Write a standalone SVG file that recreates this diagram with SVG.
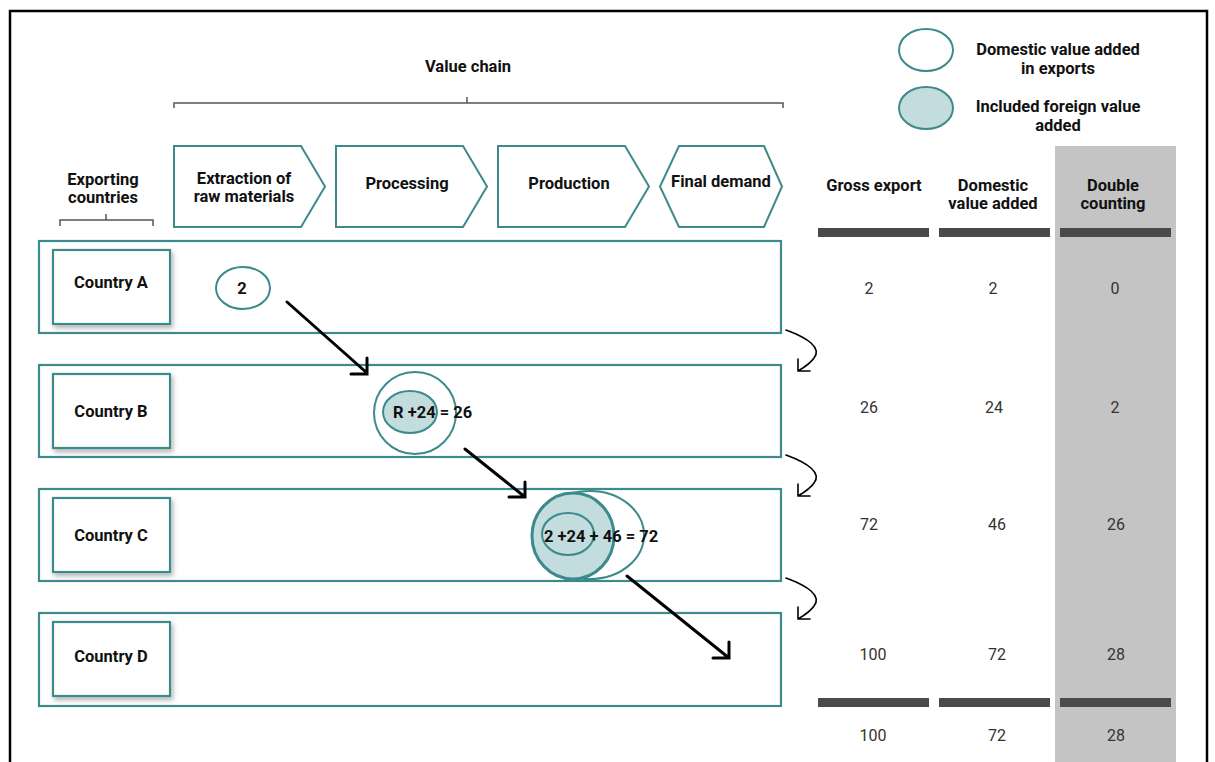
<svg xmlns="http://www.w3.org/2000/svg" width="1215" height="762" viewBox="0 0 1215 762">
<defs>
<style>
.t{font-family:Roboto,"Liberation Sans",sans-serif;font-weight:bold;font-size:16.5px;fill:#111;text-anchor:middle}
.n{font-family:Roboto,"Liberation Sans",sans-serif;font-size:16px;fill:#333;text-anchor:middle}
.tl{fill:none;stroke:#3d8a8c;stroke-width:2}
.box{fill:#fff;stroke:#3d8a8c;stroke-width:2.2}
.fill{fill:#c3dcde;stroke:#3d8a8c;stroke-width:2}
.br{fill:none;stroke:#555;stroke-width:1.5}
.ar{fill:none;stroke:#000;stroke-width:3;stroke-linecap:round}
.cv{fill:none;stroke:#000;stroke-width:1.6;stroke-linecap:round}
.bar{fill:#4a4a4a}
</style>
<filter id="sh" x="-20%" y="-20%" width="150%" height="150%">
<feDropShadow dx="2" dy="3" stdDeviation="2.5" flood-color="#000" flood-opacity="0.3"/>
</filter>
</defs>
<rect x="0" y="0" width="1215" height="762" fill="#fff"/>
<path d="M10,765 V11 H1207 V765" fill="none" stroke="#000" stroke-width="2.5"/>

<!-- brackets -->
<g id="value-chain">
<text class="t" x="468" y="72">Value chain</text>
<path class="br" d="M174,108 V103 H783 V108 M467,97 V103"/>
</g>
<g id="exporting-countries">
<text class="t" x="103" y="185">Exporting</text>
<text class="t" x="103" y="203">countries</text>
<path class="br" d="M60,226 V220 H153 V226 M106,214 V220"/>
</g>

<!-- chevrons -->
<g id="extraction">
<path class="tl" d="M174,146 H301 L325,186.5 L301,227 H174 Z"/>
<text class="t" x="244" y="184">Extraction of</text>
<text class="t" x="244" y="202">raw materials</text>
</g>
<g id="processing">
<path class="tl" d="M336,146 H463 L487,186.5 L463,227 H336 Z"/>
<text class="t" x="407" y="189">Processing</text>
</g>
<g id="production">
<path class="tl" d="M498,146 H625 L649,186.5 L625,227 H498 Z"/>
<text class="t" x="569" y="189">Production</text>
</g>
<g id="final-demand">
<path class="tl" d="M679,146 H764 L782,186.5 L764,227 H679 L660,186.5 Z"/>
<text class="t" x="721" y="187">Final demand</text>
</g>

<!-- legend -->
<g id="legend-domestic">
<ellipse cx="926" cy="50" rx="27" ry="21" class="tl"/>
<text class="t" x="1058" y="55">Domestic value added</text>
<text class="t" x="1058" y="74">in exports</text>
</g>
<g id="legend-foreign">
<ellipse cx="926" cy="108" rx="27" ry="21" class="fill"/>
<text class="t" x="1058" y="112">Included foreign value</text>
<text class="t" x="1058" y="131">added</text>
</g>

<!-- table -->
<g id="table">
<rect x="1055" y="146" width="121" height="620" fill="#c4c4c4"/>
<text class="t" x="874" y="191">Gross export</text>
<text class="t" x="993" y="191">Domestic</text>
<text class="t" x="993" y="209">value added</text>
<text class="t" x="1113" y="191">Double</text>
<text class="t" x="1113" y="209">counting</text>
<rect class="bar" x="818" y="228" width="111" height="9"/>
<rect class="bar" x="939" y="228" width="111" height="9"/>
<rect class="bar" x="1060" y="228" width="111" height="9"/>
<rect class="bar" x="818" y="698" width="111" height="9"/>
<rect class="bar" x="939" y="698" width="111" height="9"/>
<rect class="bar" x="1060" y="698" width="111" height="9"/>
<text class="n" x="869" y="294">2</text><text class="n" x="993" y="294">2</text><text class="n" x="1115" y="294">0</text>
<text class="n" x="869" y="413">26</text><text class="n" x="994" y="413">24</text><text class="n" x="1115" y="413">2</text>
<text class="n" x="869" y="530">72</text><text class="n" x="997" y="530">46</text><text class="n" x="1116" y="530">26</text>
<text class="n" x="873" y="660">100</text><text class="n" x="997" y="660">72</text><text class="n" x="1116" y="660">28</text>
<text class="n" x="873" y="741">100</text><text class="n" x="997" y="741">72</text><text class="n" x="1116" y="741">28</text>
</g>

<!-- country rows -->
<g id="country-a">
<rect class="box" x="39" y="241" width="742" height="92"/>
<rect class="box" x="53" y="250" width="117" height="74" filter="url(#sh)"/>
<text class="t" x="111" y="288">Country A</text>
<ellipse cx="243" cy="288" rx="27" ry="21" class="tl"/>
<text class="t" x="242" y="294">2</text>
</g>
<g id="country-b">
<rect class="box" x="39" y="365" width="742" height="92"/>
<rect class="box" x="53" y="374" width="117" height="74" filter="url(#sh)"/>
<text class="t" x="111" y="417">Country B</text>
<circle cx="415" cy="413" r="41" class="tl"/>
<ellipse cx="410" cy="412" rx="27" ry="21" class="fill"/>
<text class="t" x="393" y="418" style="text-anchor:start">R +24 = 26</text>
</g>
<g id="country-c">
<rect class="box" x="39" y="489" width="742" height="92"/>
<rect class="box" x="53" y="498" width="117" height="74" filter="url(#sh)"/>
<text class="t" x="111" y="541">Country C</text>
<ellipse cx="590" cy="535" rx="54" ry="44" fill="#fff" stroke="#3d8a8c" stroke-width="2"/>
<ellipse cx="573" cy="536" rx="41" ry="43" fill="#c3dcde" stroke="#3d8a8c" stroke-width="3"/>
<ellipse cx="568" cy="534" rx="26" ry="21" class="fill"/>
<text class="t" x="544" y="542" style="text-anchor:start">2 +24 + 46 = 72</text>
</g>
<g id="country-d">
<rect class="box" x="39" y="613" width="742" height="93"/>
<rect class="box" x="53" y="622" width="117" height="74" filter="url(#sh)"/>
<text class="t" x="111" y="662">Country D</text>
</g>

<!-- connectors -->
<g id="connectors">
<path class="ar" d="M287,302 L367,373 M351,374 H367 V358"/>
<path class="ar" d="M465,449 L525,497 M509,497 H525 V482"/>
<path class="ar" d="M627,576 L729,658 M713,658 H729 V642"/>
<path class="cv" d="M786,330 C808,338 822,348 814,358 C810,364 803,368 798,371 M798,371 H810 M798,371 V359"/>
<path class="cv" d="M786,455 C808,463 822,473 814,483 C810,489 803,493 798,496 M798,496 H810 M798,496 V484"/>
<path class="cv" d="M786,578 C808,586 822,596 814,606 C810,612 803,616 798,619 M798,619 H810 M798,619 V607"/>
</g>
</svg>
